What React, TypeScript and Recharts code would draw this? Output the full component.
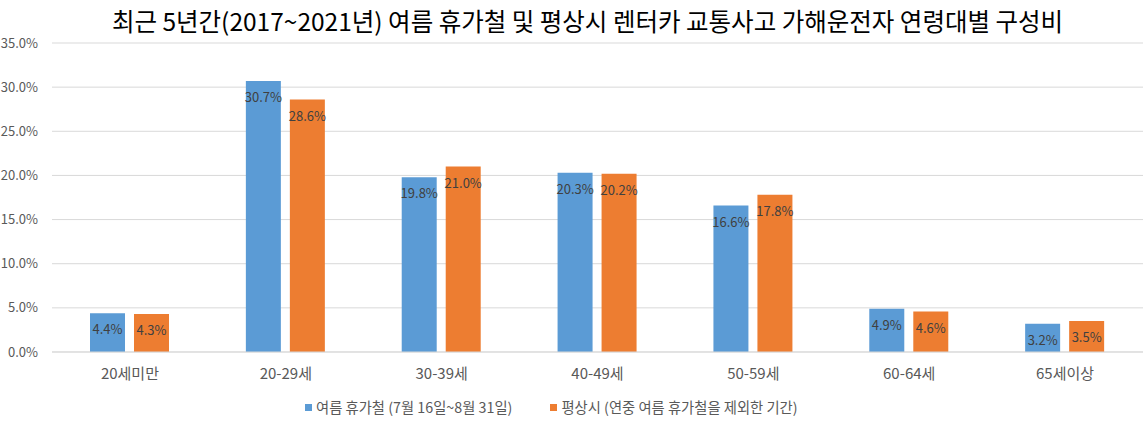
import { Bar, BarChart, CartesianGrid, LabelList, XAxis, YAxis } from "recharts";

const categories = ["20세미만", "20-29세", "30-39세", "40-49세", "50-59세", "60-64세", "65세이상"];
const summerValues = [4.4, 30.7, 19.8, 20.3, 16.6, 4.9, 3.2];
const normalValues = [4.3, 28.6, 21.0, 20.2, 17.8, 4.6, 3.5];
const yTicks = [0, 5, 10, 15, 20, 25, 30, 35];

const SERIES = [
  { key: "summer", name: "여름 휴가철 (7월 16일~8월 31일)", color: "#5B9BD5" },
  { key: "normal", name: "평상시 (연중 여름 휴가철을 제외한 기간)", color: "#ED7D31" },
];

const FONT = '"Noto Sans CJK KR", "Noto Sans", sans-serif';

const data = categories.map((name, i) => ({
  name,
  summer: summerValues[i],
  normal: normalValues[i],
}));

const pct = (v: number) => `${Number(v).toFixed(1)}%`;

export default function App() {
  return (
    <div style={{ position: "absolute", left: 0, top: 0, width: 1143, height: 431, background: "#fff", fontFamily: FONT }}>
      <div
        style={{
          position: "absolute",
          top: 5,
          left: 0,
          width: 1175,
          textAlign: "center",
          fontSize: 24.5,
          color: "#000",
          lineHeight: "32px",
        }}
      >
        최근 5년간(2017~2021년) 여름 휴가철 및 평상시 렌터카 교통사고 가해운전자 연령대별 구성비
      </div>
      <BarChart
        width={1143}
        height={431}
        data={data}
        margin={{ top: 43, right: 0, left: 0, bottom: 49 }}
        barSize={35}
        barGap={9}
      >
        <CartesianGrid vertical={false} stroke="#D9D9D9" />
        <XAxis
          dataKey="name"
          height={30}
          tickLine={false}
          axisLine={{ stroke: "#D9D9D9" }}
          tick={{ fontSize: 15, fill: "#595959", fontFamily: FONT }}
          tickMargin={10}
          interval={0}
        />
        <YAxis
          width={52}
          domain={[0, 35]}
          ticks={yTicks}
          tickFormatter={pct}
          axisLine={false}
          tickLine={false}
          tickMargin={8}
          tick={{ fontSize: 13, fill: "#595959", fontFamily: FONT }}
        />
        {SERIES.map((s) => (
          <Bar key={s.key} dataKey={s.key} name={s.name} fill={s.color} isAnimationActive={false}>
            <LabelList
              dataKey={s.key}
              position="insideTop"
              offset={12}
              formatter={pct}
              style={{ fontSize: 13, fill: "#404040", fontFamily: FONT }}
            />
          </Bar>
        ))}
      </BarChart>
      <div
        style={{
          position: "absolute",
          top: 397,
          left: 305,
          display: "flex",
          gap: 38,
          fontSize: 14.3,
          color: "#595959",
          lineHeight: "20px",
          whiteSpace: "nowrap",
        }}
      >
        {SERIES.map((s) => (
          <div key={s.key} style={{ display: "flex", alignItems: "center", gap: 4 }}>
            <span style={{ width: 7, height: 7, background: s.color, display: "inline-block" }} />
            <span>{s.name}</span>
          </div>
        ))}
      </div>
    </div>
  );
}
